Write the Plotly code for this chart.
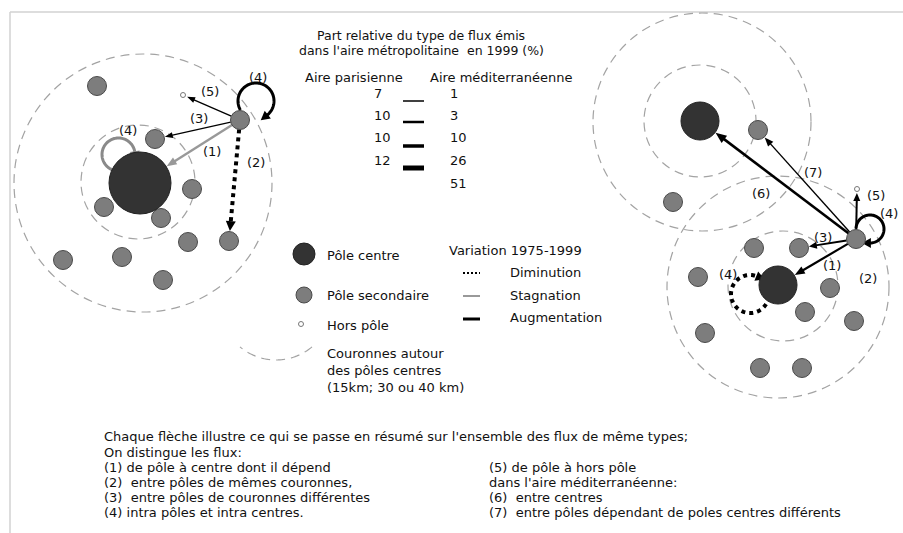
import math
import plotly.graph_objects as go

# ---------------- data ----------------
TITLE_LINES = ["Part relative du type de flux émis",
               "dans l'aire métropolitaine\u00a0 en 1999 (%)"]
AREA_LABELS = ["Aire parisienne", "Aire méditerranéenne"]
PARIS_SHARE = [7, 10, 10, 12]
MED_SHARE = [1, 3, 10, 26, 51]

NODE_LEGEND = ["Pôle centre", "Pôle secondaire", "Hors pôle"]
RING_LEGEND = ["Couronnes autour", "des pôles centres", "(15km; 30 ou 40 km)"]
VARIATION_TITLE = "Variation 1975-1999"
VARIATION_LABELS = ["Diminution", "Stagnation", "Augmentation"]

NOTE_LEFT = [
    "Chaque flèche illustre ce qui se passe en résumé sur l'ensemble des flux de même types;",
    "On distingue les flux:",
    "(1) de pôle à centre dont il dépend",
    "(2)\u00a0 entre pôles de mêmes couronnes,",
    "(3)\u00a0 entre pôles de couronnes différentes",
    "(4) intra pôles et intra centres.",
]
NOTE_RIGHT = [
    "(5) de pôle à hors pôle",
    "dans l'aire méditerranéenne:",
    "(6)\u00a0 entre centres",
    "(7)\u00a0 entre pôles dépendant de poles centres différents",
]

# Paris metropolitan area (left schema)
PAR_CENTRE_X = [140]
PAR_CENTRE_Y = [183]
PAR_SEC_X = [97, 155, 240, 192, 104, 161, 188, 229, 122, 63, 163]
PAR_SEC_Y = [86, 139, 120, 189, 207, 218, 242, 241, 257, 260, 280]
PAR_HORS_X = [183]
PAR_HORS_Y = [95]
PAR_RING_X = [143, 138]
PAR_RING_Y = [183, 182]
PAR_RING_R = [129, 57]

# Mediterranean area (right schema)
MED_CENTRE_X = [700, 778]
MED_CENTRE_Y = [121, 285]
MED_SEC_X = [758, 673, 856, 799, 754, 698, 830, 805, 854, 705, 760, 802]
MED_SEC_Y = [130, 202, 239, 248, 248, 277, 288, 312, 321, 333, 368, 368]
MED_HORS_X = [857]
MED_HORS_Y = [189]
MED_RING_X = [702, 700, 778, 783]
MED_RING_Y = [122, 121, 287, 286]
MED_RING_R = [109, 56, 111, 55]

# ---------------- styles ----------------
FONT = "DejaVu Sans"
FS = 13
TXT = "#111111"
RING_COL = "#a3a3a3"
RING_DASH = "9px,6px"
SEC_FILL = "#7d7d7d"
SEC_LINE = "#4a4a4a"
CEN_FILL = "#333333"
GRAY_ARROW = "#999999"
BLACK = "#000000"

fig = go.Figure()


def ring(cx, cy, r):
    fig.add_shape(type="circle", xref="x", yref="y", x0=cx - r, x1=cx + r,
                  y0=cy - r, y1=cy + r, layer="below",
                  line=dict(color=RING_COL, width=1.2, dash=RING_DASH))


def head(tx, ty, ux, uy, L, w, color):
    bx, by = tx - ux * L, ty - uy * L
    nx, ny = -uy, ux
    p = (f"M {tx:.2f},{ty:.2f} L {bx + nx * w / 2:.2f},{by + ny * w / 2:.2f} "
         f"L {bx - nx * w / 2:.2f},{by - ny * w / 2:.2f} Z")
    fig.add_shape(type="path", path=p, xref="x", yref="y", fillcolor=color,
                  line=dict(width=0), layer="below")


def flow(ax, ay, ra, bx, by, rb, color, width, dash="solid", L=8, w=7):
    dx, dy = bx - ax, by - ay
    d = math.hypot(dx, dy)
    ux, uy = dx / d, dy / d
    sx, sy = ax + ux * ra, ay + uy * ra
    tx, ty = bx - ux * (rb + 0.5), by - uy * (rb + 0.5)
    ex, ey = tx - ux * L * 0.85, ty - uy * L * 0.85
    fig.add_shape(type="line", xref="x", yref="y", x0=sx, y0=sy, x1=ex, y1=ey,
                  line=dict(color=color, width=width, dash=dash), layer="below")
    head(tx, ty, ux, uy, L, w, color)


def loop(cx, cy, r, t0, t1, color, width, dash="solid", L=9, w=9):
    n = 80
    pts = []
    for i in range(n + 1):
        t = math.radians(t0 + (t1 - t0) * i / n)
        pts.append((cx + r * math.cos(t), cy + r * math.sin(t)))
    p = "M " + " L ".join(f"{x:.2f},{y:.2f}" for x, y in pts)
    fig.add_shape(type="path", path=p, xref="x", yref="y",
                  line=dict(color=color, width=width, dash=dash), layer="below")
    te = math.radians(t1)
    ux, uy = -math.sin(te), math.cos(te)
    ex, ey = pts[-1]
    head(ex + ux * L * 0.9, ey + uy * L * 0.9, ux, uy, L, w, color)


def text(x, y, s, anchor="left", size=FS):
    fig.add_annotation(x=x, y=y, xref="x", yref="y", text=s, showarrow=False,
                       xanchor=anchor, yanchor="middle",
                       font=dict(family=FONT, size=size, color=TXT))


def nodes(xs, ys, r, fill, line_col, lw=1):
    fig.add_trace(go.Scatter(x=xs, y=ys, mode="markers", hoverinfo="skip",
                             showlegend=False,
                             marker=dict(size=2 * r, color=fill,
                                         line=dict(color=line_col, width=lw))))


# frame
fig.add_shape(type="line", xref="x", yref="y", x0=10, y0=12, x1=903, y1=12,
              line=dict(color="#d2d2d2", width=1.5), layer="below")
fig.add_shape(type="line", xref="x", yref="y", x0=10, y0=12, x1=10, y1=533,
              line=dict(color="#d2d2d2", width=1.5), layer="below")

# rings
for cx, cy, r in zip(PAR_RING_X, PAR_RING_Y, PAR_RING_R):
    ring(cx, cy, r)
for cx, cy, r in zip(MED_RING_X, MED_RING_Y, MED_RING_R):
    ring(cx, cy, r)

# ---- Paris flows ----
E = (PAR_SEC_X[2], PAR_SEC_Y[2])
RS = 9.5
flow(E[0], E[1], RS, PAR_CENTRE_X[0], PAR_CENTRE_Y[0], 31, GRAY_ARROW, 2.4, L=10, w=8)
flow(E[0], E[1], RS, PAR_SEC_X[1], PAR_SEC_Y[1], RS, BLACK, 1.3, L=8, w=6)
flow(E[0], E[1], RS, PAR_HORS_X[0], PAR_HORS_Y[0], 4, BLACK, 1.3, L=8, w=6)
flow(E[0], E[1], RS, PAR_SEC_X[7], PAR_SEC_Y[7], RS, BLACK, 4, dash="dot", L=10, w=10)
loop(256, 101, 18, 150, 412, BLACK, 3, L=9, w=10)
loop(118.5, 154.5, 16.5, 110, 352, "#8a8a8a", 3, L=9, w=10)

# ---- Mediterranean flows ----
M = (MED_SEC_X[2], MED_SEC_Y[2])
flow(M[0], M[1], RS, MED_CENTRE_X[0], MED_CENTRE_Y[0], 19, BLACK, 2.6, L=11, w=9)
flow(M[0], M[1], RS, MED_SEC_X[0], MED_SEC_Y[0], RS, BLACK, 1.4, L=9, w=7)
flow(M[0], M[1], RS, MED_HORS_X[0], MED_HORS_Y[0], 3.5, BLACK, 2, L=8, w=7)
flow(M[0], M[1], RS, MED_SEC_X[3], MED_SEC_Y[3], RS, BLACK, 2, L=8, w=7)
flow(M[0], M[1], RS, MED_CENTRE_X[1], MED_CENTRE_Y[1], 19, BLACK, 2.2, L=10, w=8)
loop(870, 229, 14, 182, 450, BLACK, 3, L=9, w=10)
loop(750, 294, 19, 32, 292, BLACK, 4, dash="dot", L=9, w=10)

# ---- nodes ----
nodes(PAR_SEC_X, PAR_SEC_Y, 9.5, SEC_FILL, SEC_LINE)
nodes(MED_SEC_X, MED_SEC_Y, 9.5, SEC_FILL, SEC_LINE)
nodes(PAR_CENTRE_X, PAR_CENTRE_Y, 31, CEN_FILL, "#222222")
nodes(MED_CENTRE_X, MED_CENTRE_Y, 19, CEN_FILL, "#222222")
nodes(PAR_HORS_X + MED_HORS_X, PAR_HORS_Y + MED_HORS_Y, 2.5, "white", "#777777")

# ---- flow labels ----
for x, y, s in [(258, 77, "(4)"), (210, 91, "(5)"), (199, 118, "(3)"),
                (212, 151, "(1)"), (256, 162, "(2)"), (128, 130, "(4)"),
                (761, 193, "(6)"), (813, 172, "(7)"), (876, 195, "(5)"),
                (889, 213, "(4)"), (823, 237, "(3)"), (832, 265, "(1)"),
                (868, 278, "(2)"), (728, 274, "(4)")]:
    text(x, y, s, anchor="center")

# ---- legend: shares ----
text(421, 35, TITLE_LINES[0], anchor="center", size=12.5)
text(421, 50, TITLE_LINES[1], anchor="center", size=12.5)
text(303, 77, AREA_LABELS[0])
text(428, 77, AREA_LABELS[1])
ROW_Y = [93, 115, 137, 160, 183]
for v, y in zip(PARIS_SHARE, ROW_Y):
    text(372, y, str(v))
for v, y in zip(MED_SHARE, ROW_Y):
    text(448, y, str(v))
for y, w in zip([101, 122, 146, 168], [1.5, 2.5, 3.5, 5]):
    fig.add_shape(type="line", xref="x", yref="y", x0=403, x1=424, y0=y, y1=y,
                  line=dict(color=BLACK, width=w), layer="below")

# ---- legend: nodes ----
nodes([304], [254], 11, CEN_FILL, "#222222")
nodes([304], [295], 8, SEC_FILL, SEC_LINE)
nodes([301], [324], 2.5, "white", "#777777")
for s, y in zip(NODE_LEGEND, [255, 295, 325]):
    text(325, y, s)
arc = []
for i in range(41):
    t = math.radians(50 + 80 * i / 40)
    arc.append((276 + 56 * math.cos(t), 304 + 56 * math.sin(t)))
fig.add_shape(type="path", xref="x", yref="y", layer="below",
              path="M " + " L ".join(f"{x:.2f},{y:.2f}" for x, y in arc),
              line=dict(color=RING_COL, width=1.2, dash=RING_DASH))
for s, y in zip(RING_LEGEND, [353, 370, 387]):
    text(325, y, s)

# ---- legend: variation ----
text(447, 250, VARIATION_TITLE)
for s, y in zip(VARIATION_LABELS, [272, 295, 317]):
    text(508, y, s)
fig.add_shape(type="line", xref="x", yref="y", x0=463, x1=480, y0=273, y1=273,
              line=dict(color=BLACK, width=2, dash="2px,2px"), layer="below")
fig.add_shape(type="line", xref="x", yref="y", x0=463, x1=480, y0=296, y1=296,
              line=dict(color=GRAY_ARROW, width=2), layer="below")
fig.add_shape(type="line", xref="x", yref="y", x0=463, x1=480, y0=319, y1=319,
              line=dict(color=BLACK, width=3), layer="below")

# ---- notes ----
for s, y in zip(NOTE_LEFT, [436, 452, 467, 482, 497, 512]):
    text(102, y, s)
for s, y in zip(NOTE_RIGHT, [467, 482, 497, 512]):
    text(487, y, s)

fig.update_layout(
    width=903, height=533, autosize=False,
    margin=dict(l=0, r=0, t=0, b=0, pad=0),
    paper_bgcolor="white", plot_bgcolor="white",
    xaxis=dict(range=[0, 903], visible=False, fixedrange=True),
    yaxis=dict(range=[533, 0], visible=False, fixedrange=True),
    showlegend=False,
)

fig.write_html("out.html", config={"displayModeBar": False},
               post_script="document.body.style.margin='0';document.body.style.overflow='hidden';")
